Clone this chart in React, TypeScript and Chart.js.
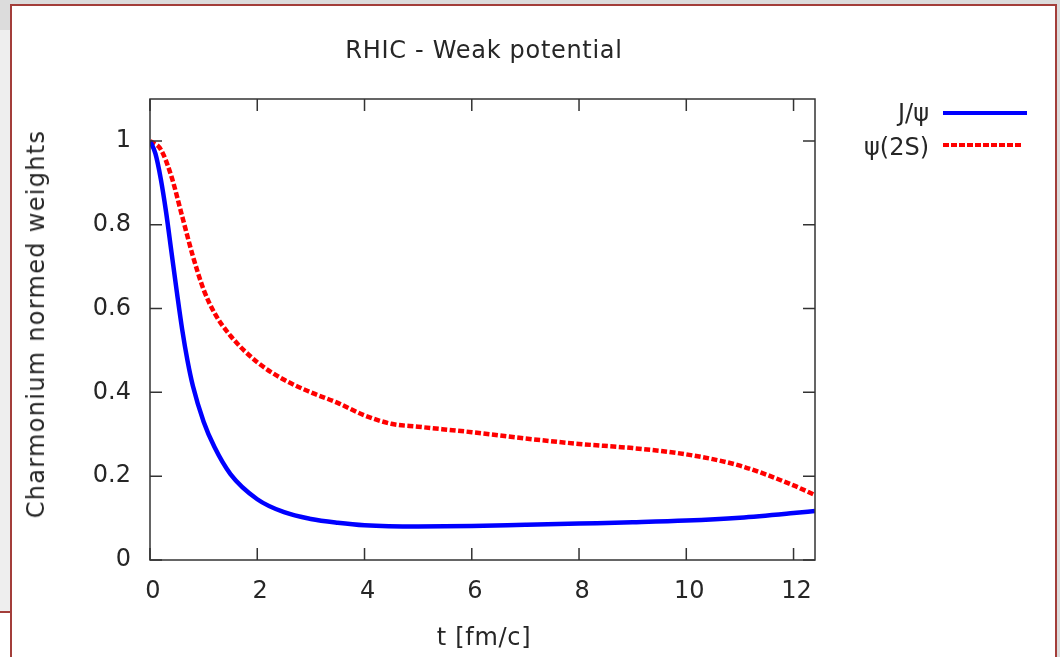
import React, { useEffect, useRef } from "react";
import { Chart, registerables } from "chart.js";

Chart.register(...registerables);

const titleText = "RHIC - Weak potential";
const xTitle = "t [fm/c]";
const yTitle = "Charmonium normed weights";
const seriesNames = ["J/ψ", "ψ(2S)"];

const jpsiTimes = [0, 0.1, 0.2, 0.3, 0.4, 0.5, 0.6, 0.7, 0.8, 1.0, 1.2, 1.5, 2.0, 2.5, 3.0, 3.5, 4.0, 5.0, 6.0, 7.0, 8.0, 9.0, 10.0, 11.0, 12.0, 12.4];
const jpsiValues = [1.0, 0.97, 0.91, 0.83, 0.735, 0.64, 0.55, 0.475, 0.415, 0.33, 0.27, 0.205, 0.145, 0.114, 0.098, 0.089, 0.083, 0.080, 0.081, 0.084, 0.087, 0.090, 0.094, 0.101, 0.112, 0.117];

const psiTimes = [0, 0.2, 0.4, 0.6, 0.8, 1.0, 1.2, 1.5, 2.0, 2.5, 3.0, 3.5, 4.0, 4.5, 5.0, 6.0, 7.0, 8.0, 9.0, 10.0, 11.0, 12.0, 12.4];
const psiValues = [1.0, 0.98, 0.915, 0.82, 0.725, 0.645, 0.59, 0.535, 0.472, 0.43, 0.40, 0.375, 0.345, 0.325, 0.318, 0.305, 0.29, 0.277, 0.267, 0.252, 0.225, 0.178, 0.155];

const xTickValues = [0, 2, 4, 6, 8, 10, 12];
const yTickValues = [0, 0.2, 0.4, 0.6, 0.8, 1];

const FONT = "'DejaVu Sans', sans-serif";
const INK = "#262626";
const FS = 24;

const boxPlugin = {
  id: "gnuBox",
  afterDraw(chart: any) {
    const { ctx, chartArea, scales } = chart;
    const { left, right, top, bottom } = chartArea;
    ctx.save();
    ctx.strokeStyle = "#333333";
    ctx.lineWidth = 1.5;
    ctx.strokeRect(left, top, right - left, bottom - top);
    const len = 12;
    ctx.beginPath();
    xTickValues.forEach((v) => {
      const px = scales.x.getPixelForValue(v);
      ctx.moveTo(px, bottom);
      ctx.lineTo(px, bottom - len);
      ctx.moveTo(px, top);
      ctx.lineTo(px, top + len);
    });
    yTickValues.forEach((v) => {
      const py = scales.y.getPixelForValue(v);
      ctx.moveTo(left, py);
      ctx.lineTo(left + len, py);
      ctx.moveTo(right, py);
      ctx.lineTo(right - len, py);
    });
    ctx.stroke();
    ctx.restore();
  },
};

export default function App() {
  const canvasRef = useRef<HTMLCanvasElement | null>(null);

  useEffect(() => {
    document.body.style.margin = "0";
    const canvas = canvasRef.current;
    if (!canvas) return;
    const chart = new Chart(canvas, {
      type: "line",
      data: {
        datasets: [
          {
            label: seriesNames[0],
            data: jpsiTimes.map((t, i) => ({ x: t, y: jpsiValues[i] })),
            borderColor: "#0000ff",
            borderWidth: 4.5,
            pointRadius: 0,
            cubicInterpolationMode: "monotone",
            fill: false,
          },
          {
            label: seriesNames[1],
            data: psiTimes.map((t, i) => ({ x: t, y: psiValues[i] })),
            borderColor: "#ff0000",
            borderWidth: 4.5,
            borderDash: [6, 2.5],
            pointRadius: 0,
            cubicInterpolationMode: "monotone",
            fill: false,
          },
        ],
      },
      options: {
        animation: false,
        responsive: false,
        maintainAspectRatio: false,
        layout: { padding: { left: 0, top: 99, right: 245, bottom: 0 } },
        plugins: {
          legend: { display: false },
          tooltip: { enabled: false },
          title: { display: false },
        },
        scales: {
          x: {
            type: "linear",
            min: 0,
            max: 12.4,
            grid: { display: false, drawTicks: false },
            border: { display: false },
            ticks: {
              stepSize: 2,
              includeBounds: false,
              padding: 17,
              labelOffset: 3,
              color: INK,
              font: { family: FONT, size: FS },
              maxRotation: 0,
            },
            afterFit: (s: any) => {
              s.height = 97;
            },
          },
          y: {
            type: "linear",
            min: 0,
            max: 1.1,
            grid: { display: false, drawTicks: false },
            border: { display: false },
            ticks: {
              stepSize: 0.2,
              includeBounds: false,
              padding: 19,
              color: INK,
              font: { family: FONT, size: FS },
              callback: (v: any) => String(Number(Number(v).toFixed(1))),
            },
            afterFit: (s: any) => {
              s.width = 150;
            },
          },
        },
      },
      plugins: [boxPlugin],
    });
    return () => chart.destroy();
  }, []);

  const text: React.CSSProperties = {
    position: "absolute",
    fontFamily: FONT,
    fontSize: FS,
    color: INK,
    whiteSpace: "nowrap",
    lineHeight: "30px",
  };

  return (
    <div style={{ position: "fixed", left: 0, top: 0, width: 1060, height: 657, background: "#dcdcdc", overflow: "hidden" }}>
      <div style={{ position: "absolute", left: 0, top: 30, width: 10, height: 581, background: "#eeeeee" }} />
      <div style={{ position: "absolute", left: 0, top: 611, width: 10, height: 2, background: "#a33e3a" }} />
      <div style={{ position: "absolute", left: 0, top: 613, width: 10, height: 44, background: "#ffffff" }} />
      <div style={{ position: "absolute", left: 10, top: 4, width: 1043, height: 700, border: "2px solid #a33e3a", background: "#ffffff" }} />
      <canvas ref={canvasRef} width={1060} height={657} style={{ position: "absolute", left: 0, top: 0, width: 1060, height: 657 }} />
      <div style={{ ...text, left: 484, top: 35, transform: "translateX(-50%)", letterSpacing: 0.7 }}>{titleText}</div>
      <div style={{ ...text, left: 484, top: 622, transform: "translateX(-50%)", letterSpacing: 0.7 }}>{xTitle}</div>
      <div style={{ ...text, left: 36, top: 324, transform: "translate(-50%, -50%) rotate(-90deg)", letterSpacing: 1.3 }}>{yTitle}</div>
      <div style={{ ...text, right: 1060 - 929, top: 98, textAlign: "right" }}>{seriesNames[0]}</div>
      <div style={{ ...text, right: 1060 - 929, top: 132, textAlign: "right" }}>{seriesNames[1]}</div>
      <div style={{ position: "absolute", left: 943, top: 111, width: 84, height: 4, background: "#0000ff" }} />
      <div style={{ position: "absolute", left: 943, top: 143, width: 80, height: 4, background: "repeating-linear-gradient(90deg, #ff0000 0px, #ff0000 6px, transparent 6px, transparent 8px)" }} />
    </div>
  );
}
